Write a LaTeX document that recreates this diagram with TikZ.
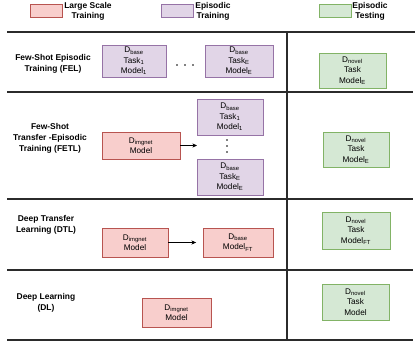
\documentclass[tikz,border=0pt]{standalone}
\usepackage{fontspec}
\setmainfont{Liberation Sans}
\usepackage{tikz}
\usetikzlibrary{arrows.meta, positioning}
\definecolor{lsFill}{HTML}{F8CECC}
\definecolor{lsDraw}{HTML}{B85450}
\definecolor{epFill}{HTML}{E1D5E7}
\definecolor{epDraw}{HTML}{9673A6}
\definecolor{tsFill}{HTML}{D5E8D4}
\definecolor{tsDraw}{HTML}{82B366}
\definecolor{ruleDark}{HTML}{2B2B2B}
\newcommand\sub[1]{\textsubscript{#1}}

\begin{document}
\begin{tikzpicture}[x=0.03cm, y=-0.03cm, font=\fontsize{7}{9}\selectfont, >={Stealth[length=4pt,width=3.5pt]},
  lsbox/.style={draw=lsDraw, fill=lsFill, align=center, inner sep=1pt},
  epbox/.style={draw=epDraw, fill=epFill, align=center, inner sep=1pt},
  tsbox/.style={draw=tsDraw, fill=tsFill, align=center, inner sep=1pt},
  rowlabel/.style={font=\fontsize{7.2}{9.5}\selectfont\bfseries, align=center},
  rule/.style={ruleDark, line width=1.1pt}]
  \useasboundingbox (0,0) rectangle (415,342);

  % legend
  \node[lsbox, minimum width=0.96cm, minimum height=0.39cm] (legLs) at (46,10.5) {};
  \node[rowlabel, font=\fontsize{7.2}{8.5}\selectfont\bfseries] (legLsText) at (88,11) {Large Scale\\Training};
  \node[epbox, minimum width=0.96cm, minimum height=0.39cm] (legEp) at (177,10.5) {};
  \node[rowlabel, font=\fontsize{7.2}{8.5}\selectfont\bfseries] (legEpText) at (213,11) {Episodic\\Training};
  \node[tsbox, minimum width=0.96cm, minimum height=0.39cm] (legTs) at (335,10.5) {};
  \node[rowlabel, font=\fontsize{7.2}{8.5}\selectfont\bfseries] (legTsText) at (370,11) {Episodic\\Testing};

  % table rules
  \draw[rule] (7,32) -- (415,32);
  \draw[rule] (287,32) -- (287,340);
  \foreach \y in {92,199,270,340} {
    \draw[rule] (7,\y) -- (413,\y);
  }

  % FEL
  \node[rowlabel] (felLabel) at (53,64) {Few-Shot Episodic\\Training (FEL)};
  \node[epbox, minimum width=1.92cm, minimum height=0.96cm] (felFirst) at (134,61) {D\sub{base}\\Task\sub{1}\\Model\sub{1}};
  \foreach \x in {177,185,193} {
    \fill (\x,65) circle (0.8pt);
  }
  \node[epbox, minimum width=2.04cm, minimum height=0.96cm] (felLast) at (239,61) {D\sub{base}\\Task\sub{E}\\Model\sub{E}};
  \node[tsbox, minimum width=2.01cm, minimum height=1.05cm] (felTest) at (352.5,70.5) {D\sub{novel}\\Task\\Model\sub{E}};

  % FETL
  \node[rowlabel] (fetlLabel) at (50,138) {Few-Shot\\Transfer -Episodic\\Training (FETL)};
  \node[lsbox, minimum width=2.34cm, minimum height=0.81cm] (fetlPre) at (141,145.5) {D\sub{imgnet}\\Model};
  \coordinate (fetlEnd) at (197,145.5);
  \draw[->] (fetlPre) -- (fetlEnd);
  \node[epbox, minimum width=1.98cm, minimum height=1.08cm] (fetlFirst) at (230,117) {D\sub{base}\\Task\sub{1}\\Model\sub{1}};
  \foreach \y in {140,146,152} {
    \fill (227,\y) circle (0.8pt);
  }
  \node[epbox, minimum width=1.98cm, minimum height=1.08cm] (fetlLast) at (230,177) {D\sub{base}\\Task\sub{E}\\Model\sub{E}};
  \node[tsbox, minimum width=1.98cm, minimum height=1.05cm] (fetlTest) at (356,149.5) {D\sub{novel}\\Task\\Model\sub{E}};

  % DTL
  \node[rowlabel] (dtlLabel) at (46,225) {Deep Transfer\\Learning (DTL)};
  \node[lsbox, minimum width=1.98cm, minimum height=0.87cm] (dtlPre) at (135,242.5) {D\sub{imgnet}\\Model};
  \node[lsbox, minimum width=2.10cm, minimum height=0.87cm] (dtlFine) at (238,242.5) {D\sub{base}\\Model\sub{FT}};
  \draw[->, shorten >=0.2cm] (dtlPre) -- (dtlFine);
  \node[tsbox, minimum width=2.04cm, minimum height=1.11cm] (dtlTest) at (356,230.5) {D\sub{novel}\\Task\\Model\sub{FT}};

  % DL
  \node[rowlabel] (dlLabel) at (46,303) {Deep Learning\\(DL)};
  \node[lsbox, minimum width=2.07cm, minimum height=0.87cm] (dlTrain) at (176.5,312.5) {D\sub{imgnet}\\Model};
  \node[tsbox, minimum width=2.01cm, minimum height=1.08cm] (dlTest) at (355.5,302) {D\sub{novel}\\Task\\Model};
\end{tikzpicture}
\end{document}
